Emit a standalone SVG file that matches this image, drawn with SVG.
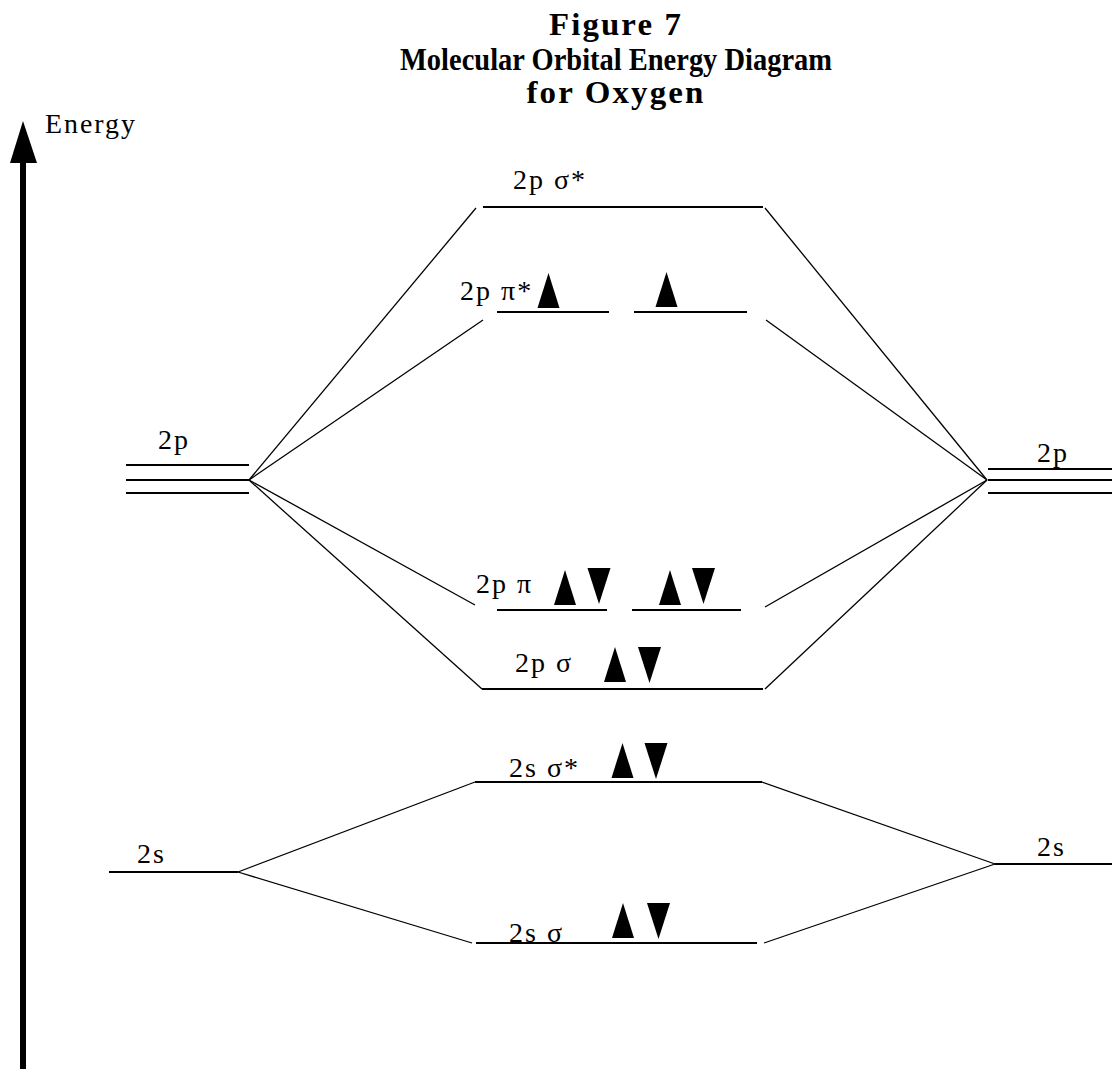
<svg xmlns="http://www.w3.org/2000/svg" width="1112" height="1069" viewBox="0 0 1112 1069">
<style>
.title{font-family:"Liberation Serif","Times New Roman",serif;font-weight:bold;font-size:31px;fill:#000;text-anchor:middle}
.lbl{font-family:"Liberation Serif","Times New Roman",serif;font-size:28px;fill:#000;letter-spacing:2px}
.lvl{stroke:#000;stroke-width:2;fill:none}
.con{stroke:#000;stroke-width:1.3;fill:none}
.spin{fill:#000}
</style>
<defs>
<path id="up" d="M0,0 L-11,35 L11,35 Z"/>
<path id="dn" d="M-11.5,0 L11.5,0 L0,36 Z"/>
</defs>
<rect width="1112" height="1069" fill="#fff"/>
<g id="title">
<text class="title" x="616" y="35" textLength="134" lengthAdjust="spacingAndGlyphs" letter-spacing="2">Figure 7</text>
<text class="title" x="616" y="70" textLength="432" lengthAdjust="spacingAndGlyphs">Molecular Orbital Energy Diagram</text>
<text class="title" x="616" y="103" textLength="179" lengthAdjust="spacingAndGlyphs" letter-spacing="2">for Oxygen</text>
</g>
<g id="energy-axis">
<rect x="20" y="158" width="6" height="911" fill="#000"/>
<polygon points="23,121 10,163 37,163" fill="#000"/>
<text class="lbl" x="45" y="133" textLength="92" lengthAdjust="spacingAndGlyphs">Energy</text>
</g>
<g id="connectors">
<line class="con" x1="249" y1="480" x2="476" y2="208"/>
<line class="con" x1="765" y1="208" x2="987" y2="480"/>
<line class="con" x1="249" y1="480" x2="483" y2="320"/>
<line class="con" x1="766" y1="320" x2="987" y2="480"/>
<line class="con" x1="249" y1="480" x2="475" y2="605"/>
<line class="con" x1="765" y1="607" x2="987" y2="480"/>
<line class="con" x1="249" y1="480" x2="482" y2="689"/>
<line class="con" x1="765" y1="689" x2="987" y2="480"/>
<line class="con" x1="238" y1="872" x2="475" y2="782"/>
<line class="con" x1="762" y1="782" x2="995" y2="864"/>
<line class="con" x1="238" y1="872" x2="472" y2="943"/>
<line class="con" x1="764" y1="943" x2="995" y2="864"/>
</g>
<g id="left-2p">
<line class="lvl" x1="126" y1="465" x2="249" y2="465"/>
<line class="lvl" x1="126" y1="480" x2="249" y2="480"/>
<line class="lvl" x1="126" y1="493" x2="249" y2="493"/>
<text class="lbl" x="158" y="449">2p</text>
</g>
<g id="right-2p">
<line class="lvl" x1="988" y1="469" x2="1112" y2="469"/>
<line class="lvl" x1="988" y1="480" x2="1112" y2="480"/>
<line class="lvl" x1="988" y1="493" x2="1112" y2="493"/>
<text class="lbl" x="1037" y="462">2p</text>
</g>
<g id="left-2s">
<line class="lvl" x1="109" y1="872" x2="238" y2="872"/>
<text class="lbl" x="137" y="863">2s</text>
</g>
<g id="right-2s">
<line class="lvl" x1="995" y1="864" x2="1112" y2="864"/>
<text class="lbl" x="1037" y="856">2s</text>
</g>
<g id="sigma-star-2p">
<line class="lvl" x1="483" y1="207" x2="763" y2="207"/>
<text class="lbl" x="513" y="189">2p σ*</text>
</g>
<g id="pi-star-2p">
<line class="lvl" x1="497" y1="312" x2="609" y2="312"/>
<line class="lvl" x1="634" y1="312" x2="747" y2="312"/>
<text class="lbl" x="460" y="300">2p π*</text>
<use href="#up" class="spin" transform="translate(548.5,273)"/>
<use href="#up" class="spin" transform="translate(666.5,272)"/>
</g>
<g id="pi-2p">
<line class="lvl" x1="497" y1="610" x2="607" y2="610"/>
<line class="lvl" x1="632" y1="610" x2="741" y2="610"/>
<text class="lbl" x="476" y="593">2p π</text>
<use href="#up" class="spin" transform="translate(565,570)"/>
<use href="#dn" class="spin" transform="translate(599,568)"/>
<use href="#up" class="spin" transform="translate(670,570)"/>
<use href="#dn" class="spin" transform="translate(703.5,568)"/>
</g>
<g id="sigma-2p">
<line class="lvl" x1="482" y1="689" x2="763" y2="689"/>
<text class="lbl" x="515" y="672">2p σ</text>
<use href="#up" class="spin" transform="translate(615,647)"/>
<use href="#dn" class="spin" transform="translate(649.5,647)"/>
</g>
<g id="sigma-star-2s">
<line class="lvl" x1="475" y1="782" x2="762" y2="782"/>
<text class="lbl" x="509" y="777">2s σ*</text>
<use href="#up" class="spin" transform="translate(622.5,743)"/>
<use href="#dn" class="spin" transform="translate(656,743)"/>
</g>
<g id="sigma-2s">
<line class="lvl" x1="476" y1="943" x2="757" y2="943"/>
<text class="lbl" x="509" y="942">2s σ</text>
<use href="#up" class="spin" transform="translate(623,903)"/>
<use href="#dn" class="spin" transform="translate(658.5,903)"/>
</g>
</svg>
